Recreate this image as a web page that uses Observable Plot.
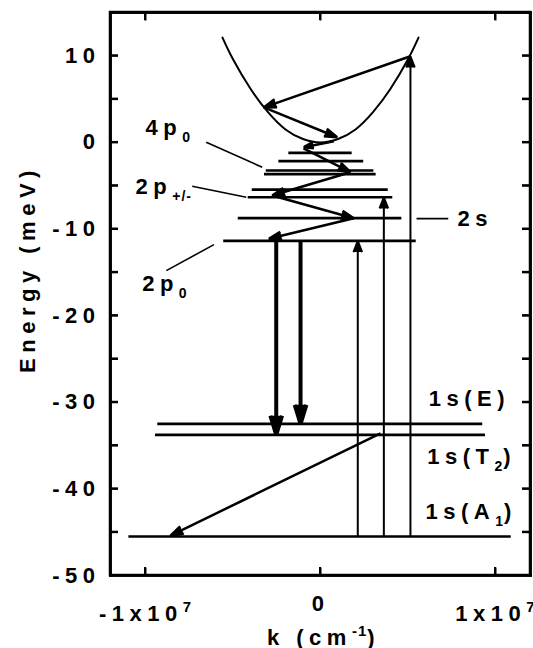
<!DOCTYPE html>
<html><head><meta charset="utf-8">
<script src="https://cdn.jsdelivr.net/npm/d3@7"></script>
<script src="https://cdn.jsdelivr.net/npm/@observablehq/plot@0.6"></script>
<style>body{margin:0;background:#fff}</style>
</head><body><div id="chart"></div>
<script>
// ---- Data (k in cm^-1, E in meV) ----
// Conduction band (parabola)
const bandK = [-5.6e6, -5e6, -4e6, -3e6, -2e6, -1e6, 0, 1e6, 2e6, 3e6, 4e6, 5e6, 5.6e6];
const bandE = [12.1, 9.6, 6.2, 3.5, 1.5, 0.4, 0, 0.4, 1.5, 3.5, 6.2, 9.6, 12.1];

// Energy levels
const levelE  = [-1.20, -2.17, -3.24, -3.67, -5.44, -6.33, -8.75, -11.36, -32.5, -33.76, -45.5];
const levelK1 = [-1.81e6, -2.38e6, -3.10e6, -3.20e6, -3.90e6, -4.13e6, -4.70e6, -5.53e6, -9.30e6, -9.43e6, -10.95e6];
const levelK2 = [1.81e6, 2.47e6, 3.05e6, 3.18e6, 3.87e6, 4.13e6, 4.65e6, 5.47e6, 9.27e6, 9.43e6, 10.90e6];

// Thin excitation arrows from 1s(A1)
const upK    = [2.13e6, 3.62e6, 5.14e6];
const upFrom = [-45.5, -45.5, -45.5];
const upTo   = [-11.36, -6.33, 9.95];

// Relaxation cascade arrows
const casK1 = [5.14e6, -3.24e6, 0.76e6, -0.97e6, 1.71e6, -2.76e6, 1.90e6, 3.43e6];
const casE1 = [9.95, 4.04, 0.14, -0.70, -3.44, -6.13, -8.75, -33.58];
const casK2 = [-3.24e6, 0.95e6, -0.95e6, 1.71e6, -2.76e6, 1.90e6, -2.95e6, -8.57e6];
const casE2 = [4.04, 0.60, -0.55, -3.44, -6.13, -8.75, -11.13, -45.4];

// Thick emission arrows 2p0 -> 1s
const downK    = [-2.53e6, -1.14e6];
const downFrom = [-11.36, -11.36];
const downTo   = [-33.76, -32.5];

// Label leader lines
const leadK1 = [-6.53e6, -7.33e6, 5.49e6, -8.81e6];
const leadE1 = [0.02, -5.06, -8.8, -14.8];
const leadK2 = [-3.33e6, -4.24e6, 7.30e6, -6.09e6];
const leadE2 = [-2.86, -6.33, -8.8, -11.8];

// Level labels (baseline-left anchor)
const labelText = ["4p_{0}", "2p_{+/-}", "2p_{0}", "2s", "1s(E)", "1s(T_{2})", "1s(A_{1})"];
const labelK = [-1.0e7, -1.057e7, -1.019e7, 0.783e7, 0.619e7, 0.61e7, 0.60e7];
const labelE = [0.8, -5.94, -17.1, -9.7, -30.4, -37.1, -43.5];

// Axes
const xDomain = [-1.2e7, 1.2e7];
const yDomain = [-50, 15];
const yTickAll = [-45, -40, -35, -30, -25, -20, -15, -10, -5, 0, 5, 10];
const yTickLabels = [-50, -40, -30, -20, -10, 0, 10];
const xTickValues = [-1e7, 0, 1e7];
const xTickLabels = ["-1x10^{7}", "0", "1x10^{7}"];
const xTitle = "k (cm^{-1})";
const yTitle = "Energy (meV)";

// ---- build tables ----
const band = bandK.map((k, i) => ({k, E: bandE[i]}));
const levels = levelE.map((E, i) => ({E, k1: levelK1[i], k2: levelK2[i]}));
const ups = upK.map((k, i) => ({k, e1: upFrom[i], e2: upTo[i]}));
const cascade = casK1.map((k1, i) => ({k1, e1: casE1[i], k2: casK2[i], e2: casE2[i]}));
const downs = downK.map((k, i) => ({k, e1: downFrom[i], e2: downTo[i]}));
const leaders = leadK1.map((k1, i) => ({k1, e1: leadE1[i], k2: leadK2[i], e2: leadE2[i]}));
const labels = labelText.map((t, i) => ({t, k: labelK[i], E: labelE[i]}));
const xTicks = xTickValues.map((v, i) => ({v, t: xTickLabels[i]}));

const W = 533, H = 648, ML = 110, MR = 3, MT = 12, MB = 73, TICK = 8;
const frameW = W - ML - MR, frameH = H - MT - MB;
const [x0, x1] = xDomain, [y0, y1] = yDomain;
const frameEdges = [
  {a: x0, b: y0, c: x1, d: y0}, {a: x1, b: y0, c: x1, d: y1},
  {a: x1, b: y1, c: x0, d: y1}, {a: x0, b: y1, c: x0, d: y0}
];
const tickLenY = TICK * (y1 - y0) / frameH; // tick length expressed in y units

const chart = Plot.plot({
  width: W,
  height: H,
  marginLeft: ML,
  marginRight: MR,
  marginTop: MT,
  marginBottom: MB,
  style: {
    fontFamily: "Liberation Sans, Arial, sans-serif",
    fontSize: "22px",
    fontWeight: "bold",
    letterSpacing: "5.5px",
    background: "white",
    color: "black"
  },
  x: {domain: xDomain, axis: null},
  y: {domain: yDomain, axis: null},
  marks: [
    // band
    Plot.line(band, {x: "k", y: "E", curve: "natural", stroke: "black", strokeWidth: 2}),
    // levels
    Plot.ruleY(levels, {y: "E", x1: "k1", x2: "k2", stroke: "black", strokeWidth: 2.7}),
    // leaders
    Plot.link(leaders, {x1: "k1", y1: "e1", x2: "k2", y2: "e2", stroke: "black", strokeWidth: 1.6}),
    // arrows (filled heads)
    Plot.arrow(ups, {x1: "k", x2: "k", y1: "e1", y2: "e2", stroke: "black", fill: "black", strokeWidth: 2, headAngle: 42, headLength: 9, strokeLinecap: "butt"}),
    Plot.arrow(cascade, {x1: "k1", y1: "e1", x2: "k2", y2: "e2", stroke: "black", fill: "black", strokeWidth: 2.5, headAngle: 36, headLength: 8, strokeLinecap: "butt"}),
    Plot.arrow(downs, {x1: "k", x2: "k", y1: "e1", y2: "e2", stroke: "black", fill: "black", strokeWidth: 4, headAngle: 34, headLength: 7.5, strokeLinecap: "butt"}),
    // level labels
    Plot.text(labels, {x: "k", y: "E", text: "t", textAnchor: "start", lineAnchor: "bottom"}),
    // tick labels
    Plot.text(yTickLabels, {y: d => d, text: d => String(d), frameAnchor: "left", textAnchor: "end", dx: -10}),
    Plot.text(xTicks.filter(d => d.v !== 0), {x: "v", text: "t", frameAnchor: "bottom", lineAnchor: "top", dy: 30}),
    Plot.text(xTicks.filter(d => d.v === 0), {x: "v", text: "t", frameAnchor: "bottom", lineAnchor: "top", dy: 20}),
    // axis titles
    Plot.text([yTitle], {frameAnchor: "left", rotate: -90, textAnchor: "middle", dx: -83, dy: -25}),
    Plot.text([xTitle], {frameAnchor: "bottom", textAnchor: "middle", lineAnchor: "bottom", dx: 3, dy: 69}),
    // frame (two redundant ways)
    Plot.frame({stroke: "black", strokeWidth: 2.5}),
    Plot.link(frameEdges, {x1: "a", y1: "b", x2: "c", y2: "d", stroke: "black", strokeWidth: 2.5, strokeLinecap: "square"}),
    // inward ticks on all four sides
    Plot.tickY(yTickAll, {y: d => d, insetRight: frameW - TICK, stroke: "black", strokeWidth: 2}),
    Plot.tickY(yTickAll, {y: d => d, insetLeft: frameW - TICK, stroke: "black", strokeWidth: 2}),
    Plot.link(xTickValues, {x1: d => d, x2: d => d, y1: () => y0, y2: () => y0 + tickLenY, stroke: "black", strokeWidth: 2}),
    Plot.link(xTickValues, {x1: d => d, x2: d => d, y1: () => y1, y2: () => y1 - tickLenY, stroke: "black", strokeWidth: 2})
  ]
});

// rich text: _{sub} and ^{sup} -> tspans
function richText(svg) {
  const SUB = {size: 14, shift: 7}, SUP = {size: 15, shift: -9};
  d3.select(svg).selectAll("text").each(function () {
    const s = this.textContent;
    if (!/[_^]\{/.test(s)) return;
    this.textContent = "";
    const re = /([_^])\{([^}]*)\}|([^_^]+)/g;
    let m, cur = 0;
    while ((m = re.exec(s))) {
      const t = document.createElementNS("http://www.w3.org/2000/svg", "tspan");
      let target = 0, size = null, str = m[3];
      if (m[1] === "_") { target = SUB.shift; size = SUB.size; str = m[2]; }
      else if (m[1] === "^") { target = SUP.shift; size = SUP.size; str = m[2]; }
      if (target !== cur) { t.setAttribute("dy", target - cur); cur = target; }
      if (size) { t.setAttribute("font-size", size); t.setAttribute("letter-spacing", "1px"); }
      t.textContent = str;
      this.appendChild(t);
    }
  });
}
richText(chart);

// extra frame + ticks placed with the plot's own scales (redundant safety layer)
try {
  const sx = chart.scale("x").apply, sy = chart.scale("y").apply;
  const g = d3.select(chart).append("g").attr("fill", "none").attr("stroke", "black");
  g.append("rect").attr("x", sx(x0)).attr("y", sy(y1)).attr("width", sx(x1) - sx(x0)).attr("height", sy(y0) - sy(y1)).attr("stroke-width", 2.5);
  for (const v of yTickAll) {
    g.append("line").attr("x1", sx(x0)).attr("x2", sx(x0) + TICK).attr("y1", sy(v)).attr("y2", sy(v)).attr("stroke-width", 2);
    g.append("line").attr("x1", sx(x1)).attr("x2", sx(x1) - TICK).attr("y1", sy(v)).attr("y2", sy(v)).attr("stroke-width", 2);
  }
  for (const v of xTickValues) {
    g.append("line").attr("x1", sx(v)).attr("x2", sx(v)).attr("y1", sy(y0)).attr("y2", sy(y0) - TICK).attr("stroke-width", 2);
    g.append("line").attr("x1", sx(v)).attr("x2", sx(v)).attr("y1", sy(y1)).attr("y2", sy(y1) + TICK).attr("stroke-width", 2);
  }
} catch (e) {}
document.getElementById("chart").append(chart);
</script></body></html>
